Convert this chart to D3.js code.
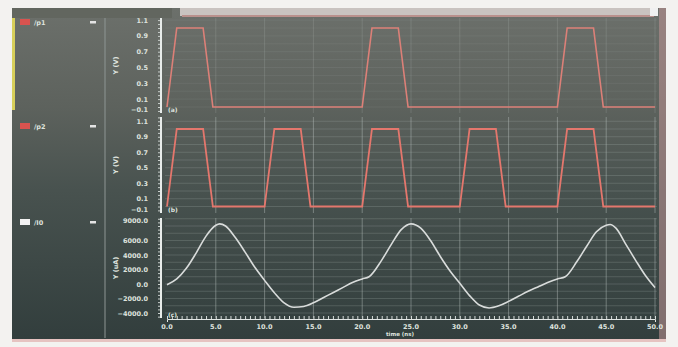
<!doctype html>
<html lang="en">
  <head>
    <meta charset="utf-8">
    <title>transient waveforms</title>
    <script src="https://d3js.org/d3.v7.min.js"></script>
    <style>
      body { margin: 0; background: #f3f2f0; font-family: 'DejaVu Sans', sans-serif; }
      svg text { fill: #dfe3df; font-weight: bold; }
    </style>
  </head>
  <body>
    <div id="root"></div>
  </body>
  <script>

    //data:
    const netNames = ['/p1', '/p2', '/I0'];
    const p1Time = [0, 1, 3.7, 4.7, 20, 21, 23.7, 24.7, 40, 41, 43.7, 44.7, 50];
    const p1Volt = [0, 1, 1, 0, 0, 1, 1, 0, 0, 1, 1, 0, 0];
    const p2Time = [0, 1, 3.7, 4.7, 10, 11, 13.7, 14.7, 20, 21, 23.7, 24.7, 30, 31, 33.7, 34.7, 40, 41, 43.7, 44.7, 50];
    const p2Volt = [0, 1, 1, 0, 0, 1, 1, 0, 0, 1, 1, 0, 0, 1, 1, 0, 0, 1, 1, 0, 0];
    const iTime = [0, 1, 2, 3, 4, 5, 5.4, 6, 7, 8, 9, 10, 11, 12, 13, 14, 15, 16, 17, 18, 19, 20, 20.7,
                   22, 23, 24, 25, 26, 27, 28, 29, 30, 31, 32, 33, 34, 35, 36, 37, 38, 39, 40, 40.8,
                   42, 43, 44, 45, 45.4, 46, 47, 48, 49, 50];
    const iVal = [-100, 700, 2200, 4300, 6600, 8100, 8300, 8000, 6400, 4400, 2300, 500, -1200, -2600, -3200, -3100, -2600, -1900, -1200, -500, 200, 700, 1000,
                  3300, 5500, 7500, 8300, 7700, 6000, 3800, 1800, 100, -1600, -2900, -3300, -3000, -2400, -1700, -1000, -400, 200, 700, 1000,
                  3100, 5200, 7200, 8100, 8200, 7700, 5500, 3300, 1200, -500];
    const xTicks = [0, 5, 10, 15, 20, 25, 30, 35, 40, 45, 50];
    const vTicks = [1.1, 0.9, 0.7, 0.5, 0.3, 0.1, -0.1];
    const iTicks = [9000, 6000, 4000, 2000, 0, -2000, -4000];
    const panelTags = ['(a)', '(b)', '(c)'];

    const width = 678;
    const height = 347;
    const fmt = d3.format('.1f');

    const svg = d3.select('#root').append('svg')
      .attr('width', width)
      .attr('height', height);

    //screen background, lighter at the top from the glare
    const defs = svg.append('defs');
    const grad = defs.append('linearGradient').attr('id', 'scr')
      .attr('x1', 0).attr('x2', 0).attr('y1', 0).attr('y2', 1);
    grad.append('stop').attr('offset', '0%').attr('stop-color', '#6c706b');
    grad.append('stop').attr('offset', '30%').attr('stop-color', '#5d625d');
    grad.append('stop').attr('offset', '55%').attr('stop-color', '#48524f');
    grad.append('stop').attr('offset', '100%').attr('stop-color', '#323e3d');

    svg.append('rect').attr('x', 12).attr('y', 8).attr('width', 654).attr('height', 331)
      .attr('fill', 'url(#scr)');
    svg.append('rect').attr('x', 659).attr('y', 8).attr('width', 7).attr('height', 331)
      .attr('fill', '#b58f8f').attr('opacity', 0.6);
    svg.append('rect').attr('x', 12).attr('y', 339).attr('width', 654).attr('height', 3)
      .attr('fill', '#e6c3c1');

    //tab strip on top
    svg.append('rect').attr('x', 12).attr('y', 8).attr('width', 160).attr('height', 10).attr('fill', '#62665f');
    svg.append('rect').attr('x', 180).attr('y', 8).attr('width', 474).attr('height', 8).attr('fill', '#c9c3c0');
    svg.append('rect').attr('x', 182).attr('y', 15).attr('width', 472).attr('height', 2).attr('fill', '#b9908c');
    svg.append('rect').attr('x', 650).attr('y', 8).attr('width', 8).attr('height', 8).attr('fill', '#f0f0f0');
    svg.append('rect').attr('x', 12).attr('y', 18).attr('width', 3).attr('height', 92).attr('fill', '#d7cf5a');

    //divider between legend and plots
    svg.append('line').attr('x1', 105).attr('x2', 105).attr('y1', 18).attr('y2', 338)
      .attr('stroke', '#8e9694').attr('stroke-width', 1);

    //scales:
    const x = d3.scaleLinear().domain([0, 50]).range([167, 655]);
    const panels = [
      { y: d3.scaleLinear().domain([0, 1]).range([107, 28]), top: 18, bottom: 113, ticks: vTicks, grid: 0.1, label: 'Y (V)' },
      { y: d3.scaleLinear().domain([0, 1]).range([206.5, 129]), top: 117, bottom: 213, ticks: vTicks, grid: 0.1, label: 'Y (V)' },
      { y: d3.scaleLinear().domain([0, 2000]).range([284, 269.5]), top: 218, bottom: 318, ticks: iTicks, grid: 1000, label: 'Y (uA)' }
    ];

    panels.forEach((p, k) => {
      const g = svg.append('g');
      const lo = p.y.invert(p.bottom), hi = p.y.invert(p.top);

      //horizontal grid
      const hs = d3.range(Math.ceil(lo / p.grid) * p.grid, hi, p.grid);
      g.selectAll('.hg').data(hs).enter().append('line')
        .attr('x1', 165).attr('x2', 657)
        .attr('y1', d => p.y(d)).attr('y2', d => p.y(d))
        .attr('stroke', '#a9b3b0').attr('stroke-opacity', k === 0 ? 0.15 : 0.3).attr('stroke-width', 0.8);

      //vertical grid
      g.selectAll('.vg').data(xTicks.slice(1)).enter().append('line')
        .attr('x1', d => x(d)).attr('x2', d => x(d))
        .attr('y1', p.top).attr('y2', p.bottom)
        .attr('stroke', '#b8c2bf').attr('stroke-opacity', k === 0 ? 0.2 : 0.45).attr('stroke-width', 1);

      //y axis
      const axis = d3.axisLeft(p.y).tickValues(d3.range(Math.ceil(lo / (p.grid / 2)) * (p.grid / 2), hi, p.grid / 2))
        .tickSize(3).tickFormat('');
      const ag = g.append('g').attr('transform', 'translate(161,0)').call(axis);
      ag.select('.domain').remove();
      ag.selectAll('line').attr('stroke', '#c9cfcc');
      g.append('line').attr('x1', 161).attr('x2', 161).attr('y1', p.top).attr('y2', p.bottom)
        .attr('stroke', '#e8ecea').attr('stroke-width', 2);

      //tick labels, kept inside their own panel so neighbours do not collide
      g.selectAll('.yl').data(p.ticks.filter(d => p.y(d) >= p.top - 4 && p.y(d) <= p.bottom + 3)).enter().append('text')
        .attr('x', 148).attr('y', d => Math.max(p.top + 5, Math.min(p.bottom - 1, p.y(d) + 2.5)))
        .attr('text-anchor', 'end').attr('font-size', 6.5)
        .text(d => fmt(d));

      g.append('text')
        .attr('transform', `translate(118,${(p.top + p.bottom) / 2}) rotate(-90)`)
        .attr('text-anchor', 'middle').attr('font-size', 6.5)
        .text(p.label);

      g.append('text').attr('x', 168).attr('y', p.bottom - 1).attr('font-size', 6)
        .text(panelTags[k]);
    });

    //x axis
    const xMinor = d3.axisBottom(x).tickValues(d3.range(0, 50.01, 0.5)).tickSize(3).tickFormat('');
    const xg = svg.append('g').attr('transform', 'translate(0,319)').call(xMinor);
    xg.select('.domain').attr('stroke', '#e3e7e5');
    xg.selectAll('line').attr('stroke', '#d6dbd9').attr('transform', 'translate(0,-3)');

    svg.selectAll('.xl').data(xTicks).enter().append('text')
      .attr('x', d => x(d)).attr('y', 329)
      .attr('text-anchor', 'middle').attr('font-size', 6.5)
      .text(d => fmt(d));
    svg.append('text').attr('x', 400).attr('y', 336).attr('text-anchor', 'middle')
      .attr('font-size', 5.5).text('time (ns)');

    //traces
    const pulse = (tt, vv, sc) => d3.line()
      .x(i => x(tt[i])).y(i => sc(vv[i]))(d3.range(tt.length));

    svg.append('path').attr('d', pulse(p1Time, p1Volt, panels[0].y))
      .attr('fill', 'none').attr('stroke', '#dc8078').attr('stroke-width', 1.6);
    svg.append('path').attr('d', pulse(p2Time, p2Volt, panels[1].y))
      .attr('fill', 'none').attr('stroke', '#e4776d').attr('stroke-width', 1.8);

    const curr = d3.line().curve(d3.curveMonotoneX)
      .x(i => x(iTime[i])).y(i => panels[2].y(iVal[i]));
    svg.append('path').attr('d', curr(d3.range(iTime.length)))
      .attr('fill', 'none').attr('stroke', '#d9dcdb').attr('stroke-width', 1.6);

    //legend
    const legY = [22, 126, 222];
    const legCol = ['#d9534f', '#d9534f', '#f2f2f2'];
    netNames.forEach((n, k) => {
      svg.append('rect').attr('x', 20).attr('y', legY[k] - 3).attr('width', 10).attr('height', 6)
        .attr('fill', legCol[k]);
      svg.append('text').attr('x', 34).attr('y', legY[k] + 2.5).attr('font-size', 6.5).text(n);
      svg.append('rect').attr('x', 90).attr('y', legY[k] - 1).attr('width', 6).attr('height', 2.5)
        .attr('fill', '#e4e4e4');
    });

  </script>
</html>
